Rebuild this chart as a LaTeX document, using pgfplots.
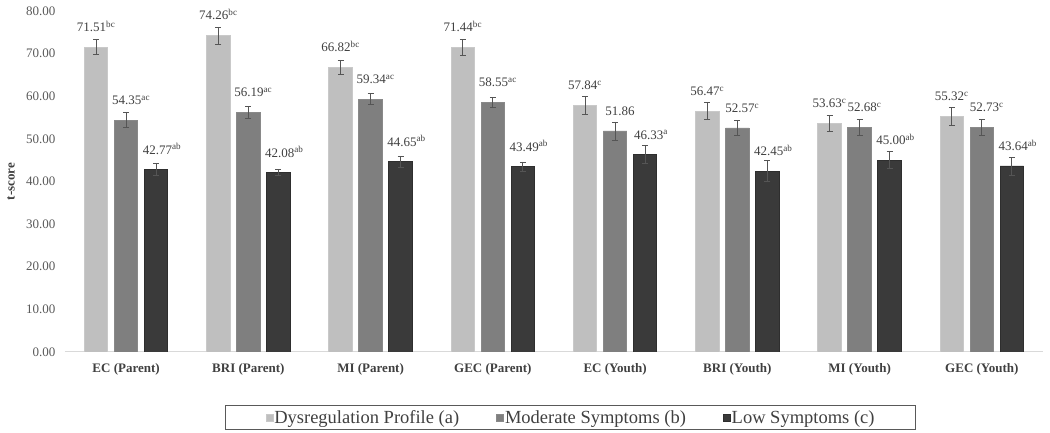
\documentclass[border=0pt]{standalone}
\usepackage{fontspec}
\setmainfont{Liberation Serif}
\usepackage{pgfplots}
\usepackage{pgfplotstable}
\pgfplotsset{compat=1.18}
\definecolor{cA}{HTML}{BFBFBF}
\definecolor{cB}{HTML}{7F7F7F}
\definecolor{cC}{HTML}{3A3A3A}
\definecolor{txt}{HTML}{404040}
\definecolor{tick}{HTML}{595959}
\definecolor{axg}{HTML}{D9D9D9}
\definecolor{errc}{HTML}{555555}
\newcommand\fa{\fontsize{13}{15}\selectfont}
\newcommand\fl{\fontsize{18.5}{21}\selectfont}

\pgfplotstableread{
x y e lab
0 71.51 1.8 {71.51\textsuperscript{bc}}
1 74.26 2.0 {74.26\textsuperscript{bc}}
2 66.82 1.7 {66.82\textsuperscript{bc}}
3 71.44 1.8 {71.44\textsuperscript{bc}}
4 57.84 2.1 {57.84\textsuperscript{c}}
5 56.47 2.0 {56.47\textsuperscript{c}}
6 53.63 1.9 {53.63\textsuperscript{c}}
7 55.32 2.1 {55.32\textsuperscript{c}}
}\tA
\pgfplotstableread{
x y e lab
0 54.35 1.75 {54.35\textsuperscript{ac}}
1 56.19 1.5 {56.19\textsuperscript{ac}}
2 59.34 1.3 {59.34\textsuperscript{ac}}
3 58.55 1.2 {58.55\textsuperscript{ac}}
4 51.86 2.1 {51.86}
5 52.57 1.8 {52.57\textsuperscript{c}}
6 52.68 1.8 {52.68\textsuperscript{c}}
7 52.73 1.8 {52.73\textsuperscript{c}}
}\tB
\pgfplotstableread{
x y e lab
0 42.77 1.4 {42.77\textsuperscript{ab}}
1 42.08 0.7 {42.08\textsuperscript{ab}}
2 44.65 1.25 {44.65\textsuperscript{ab}}
3 43.49 1.1 {43.49\textsuperscript{ab}}
4 46.33 2.1 {46.33\textsuperscript{a}}
5 42.45 2.5 {42.45\textsuperscript{ab}}
6 45.00 2.0 {45.00\textsuperscript{ab}}
7 43.64 2.1 {43.64\textsuperscript{ab}}
}\tC

\begin{document}
\begin{tikzpicture}
\useasboundingbox (-65pt,-81pt) rectangle (985pt,352pt);
\begin{axis}[
  scale only axis, width=978pt, height=341pt,
  xmin=-0.5, xmax=7.5, ymin=0, ymax=80,
  ybar=6.5pt, bar width=23.5pt,
  xtick={0,...,7},
  xticklabels={EC (Parent),BRI (Parent),MI (Parent),GEC (Parent),EC (Youth),BRI (Youth),MI (Youth),GEC (Youth)},
  ytick={0,10,...,80},
  yticklabel style={font=\fa, text=tick, xshift=-6pt,
    /pgf/number format/fixed, /pgf/number format/fixed zerofill,
    /pgf/number format/precision=2, /pgf/number format/assume math mode=true},
  axis x line*=bottom, axis y line*=left,
  x axis line style={draw=axg,line width=1pt,-},
  y axis line style={draw=none},
  major tick length=0pt,
  xticklabel style={font=\fa\bfseries, text=txt, yshift=-8pt},
  point meta=explicit symbolic,
  nodes near coords,
  nodes near coords style={font=\fa, text=txt, anchor=base, yshift=15.5pt},
  error bars/y dir=both, error bars/y explicit,
  error bars/error bar style={draw=errc,line width=0.8pt},
  error bars/error mark options={rotate=90,mark size=3pt,line width=0.8pt,draw=errc},
  legend columns=3,
  legend style={at={(rel axis cs:0.5169,-0.192)}, anchor=center, draw=tick, line width=0.8pt,
    font=\fl, text=txt, inner xsep=40pt, inner ysep=2.5pt,
    /tikz/every even column/.append style={column sep=36pt},
    nodes={inner xsep=1pt, inner ysep=2pt}},
  legend image code/.code={\fill[#1] (0pt,-3.5pt) rectangle (7pt,3.5pt);},
]
\addplot+[fill=cA, draw=cA!85!white, line width=0.8pt] table[x=x,y=y,y error=e,meta=lab]{\tA};
\addlegendentry{Dysregulation Profile (a)}
\addplot+[fill=cB, draw=cB!92!white, line width=0.8pt, nodes near coords style={xshift=5pt}] table[x=x,y=y,y error=e,meta=lab]{\tB};
\addlegendentry{Moderate Symptoms (b)}
\addplot+[fill=cC, draw=cC!80!black, line width=0.8pt, nodes near coords style={xshift=6pt}] table[x=x,y=y,y error=e,meta=lab]{\tC};
\addlegendentry{Low Symptoms (c)}
\end{axis}
\node[rotate=90, font=\fa\bfseries, text=txt] at (-54pt,170.5pt) {t-score};
\end{tikzpicture}
\end{document}
